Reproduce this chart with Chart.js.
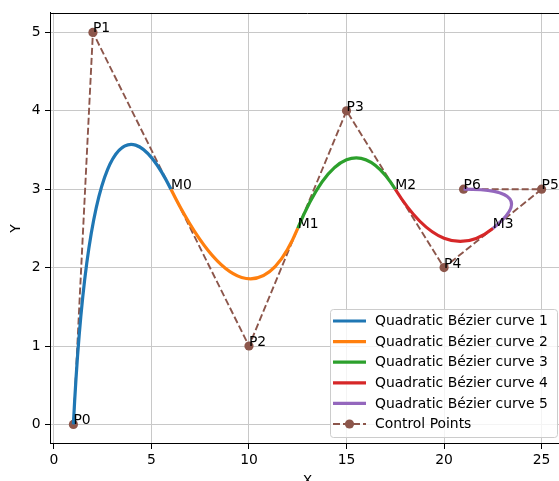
<!DOCTYPE html>
<html>
<head>
<meta charset="utf-8">
<script src="https://cdn.jsdelivr.net/npm/chart.js@4"></script>
<style>
  html, body { margin: 0; padding: 0; overflow: hidden; background: #fff; }
  #wrap { width: 559px; height: 481px; overflow: hidden; }
  canvas { display: block; }
</style>
</head>
<body>
<div id="wrap"><canvas id="bezierChart" width="575" height="490"></canvas></div>
<script>
'use strict';

// control points P0..P6
var cpX = [1, 2, 10, 15, 20, 25, 21];
var cpY = [0, 5, 1, 4, 2, 3, 3];
var cpLabels = ['P0', 'P1', 'P2', 'P3', 'P4', 'P5', 'P6'];

// joins between the curves M0..M3
var midX = [6, 12.5, 17.5, 22.5];
var midY = [3, 2.5, 3, 2.5];
var midLabels = ['M0', 'M1', 'M2', 'M3'];

var curveNames = ['Quadratic Bézier curve 1', 'Quadratic Bézier curve 2', 'Quadratic Bézier curve 3',
                  'Quadratic Bézier curve 4', 'Quadratic Bézier curve 5'];
var curveColors = ['#1f77b4', '#ff7f0e', '#2ca02c', '#d62728', '#9467bd'];
var cpColor = '#8c564b';

var xTicks = [0, 5, 10, 15, 20, 25];
var yTicks = [0, 1, 2, 3, 4, 5];

var FONT = 'DejaVu Sans';
var FSIZE = 13.9;

Chart.defaults.font.family = FONT;
Chart.defaults.font.size = FSIZE;
Chart.defaults.color = '#000';

// curve i: start (P0 or M[i-1]) -> control P[i+1] -> end (M[i] or P6)
var datasets = curveNames.map(function (name, i) {
    var start = i === 0 ? {x: cpX[0], y: cpY[0]} : {x: midX[i - 1], y: midY[i - 1]};
    var end = i === curveNames.length - 1 ? {x: cpX[6], y: cpY[6]} : {x: midX[i], y: midY[i]};
    return {
        label: name,
        data: [start, end],
        bezierControl: {x: cpX[i + 1], y: cpY[i + 1]},
        borderColor: curveColors[i],
        backgroundColor: curveColors[i],
        borderWidth: 3.2,
        tension: 0.4,
        pointRadius: 0,
        fill: false,
        clip: false
    };
});

datasets.push({
    label: 'Control Points',
    data: cpX.map(function (x, i) { return {x: x, y: cpY[i]}; }),
    borderColor: cpColor,
    backgroundColor: cpColor,
    borderWidth: 1.9,
    borderDash: [7, 3],
    tension: 0,
    pointRadius: 4.6,
    pointBorderWidth: 0,
    pointBackgroundColor: cpColor,
    fill: false
});

// the line element draws a cubic between two points; give it the
// control points of the equivalent cubic so it traces the quadratic
var quadPlugin = {
    id: 'quad',
    afterDatasetsUpdate: function (chart) {
        var xs = chart.scales.x, ys = chart.scales.y;
        chart.data.datasets.forEach(function (ds, i) {
            if (!ds.bezierControl) { return; }
            var meta = chart.getDatasetMeta(i);
            var a = meta.data[0], b = meta.data[1];
            var cx = xs.getPixelForValue(ds.bezierControl.x);
            var cy = ys.getPixelForValue(ds.bezierControl.y);
            a.cp2x = a.x + 2 / 3 * (cx - a.x);
            a.cp2y = a.y + 2 / 3 * (cy - a.y);
            b.cp1x = b.x + 2 / 3 * (cx - b.x);
            b.cp1y = b.y + 2 / 3 * (cy - b.y);
            a.cp1x = a.x; a.cp1y = a.y;
            b.cp2x = b.x; b.cp2y = b.y;
            meta.dataset._pointsUpdated = true;
        });
    }
};

// point names, top spine, legend box
var decoPlugin = {
    id: 'deco',
    afterDatasetsDraw: function (chart) {
        var ctx = chart.ctx, xs = chart.scales.x, ys = chart.scales.y;
        ctx.save();
        ctx.font = FSIZE + 'px "' + FONT + '"';
        ctx.fillStyle = '#000';
        ctx.textAlign = 'left';
        ctx.textBaseline = 'alphabetic';
        cpLabels.forEach(function (t, i) {
            ctx.fillText(t, xs.getPixelForValue(cpX[i]), ys.getPixelForValue(cpY[i]));
        });
        midLabels.forEach(function (t, i) {
            ctx.fillText(t, xs.getPixelForValue(midX[i]), ys.getPixelForValue(midY[i]));
        });
        ctx.restore();
    },
    afterDraw: function (chart) {
        var ctx = chart.ctx, area = chart.chartArea;
        ctx.save();
        // top spine
        ctx.strokeStyle = '#000';
        ctx.lineWidth = 1;
        ctx.beginPath();
        ctx.moveTo(area.left, Math.round(area.top) + 0.5);
        ctx.lineTo(area.right, Math.round(area.top) + 0.5);
        ctx.stroke();

        // legend
        var w = 227, h = 128;
        var x0 = area.right - 8 - w, y0 = area.bottom - 7 - h;
        ctx.beginPath();
        ctx.roundRect(x0 + 0.5, y0 + 0.5, w, h, 3);
        ctx.fillStyle = 'rgba(255,255,255,0.8)';
        ctx.fill();
        ctx.strokeStyle = '#cccccc';
        ctx.lineWidth = 1;
        ctx.stroke();

        ctx.font = FSIZE + 'px "' + FONT + '"';
        ctx.textAlign = 'left';
        ctx.textBaseline = 'middle';
        chart.data.datasets.forEach(function (ds, i) {
            var ry = y0 + 12 + i * 20.6;
            var hx0 = x0 + 3, hx1 = x0 + 36;
            ctx.beginPath();
            ctx.strokeStyle = ds.borderColor;
            ctx.lineWidth = ds.borderWidth;
            ctx.setLineDash(ds.borderDash || []);
            ctx.moveTo(hx0, ry);
            ctx.lineTo(hx1, ry);
            ctx.stroke();
            ctx.setLineDash([]);
            if (ds.pointRadius) {
                ctx.beginPath();
                ctx.fillStyle = ds.pointBackgroundColor;
                ctx.arc((hx0 + hx1) / 2, ry, ds.pointRadius, 0, Math.PI * 2);
                ctx.fill();
            }
            ctx.fillStyle = '#000';
            ctx.fillText(ds.label, x0 + 45, ry + 0.5);
        });
        ctx.restore();
    }
};

var ctxEl = document.getElementById('bezierChart');
var bezierChart = new Chart(ctxEl, {
    type: 'line',
    data: { datasets: datasets },
    plugins: [quadPlugin, decoPlugin],
    options: {
        responsive: false,
        animation: false,
        devicePixelRatio: 1,
        layout: { padding: { top: 12, right: 10, left: 0, bottom: 0 } },
        plugins: { legend: { display: false }, tooltip: { enabled: false } },
        scales: {
            x: {
                type: 'linear',
                position: 'bottom',
                min: -0.2,
                max: 26.2,
                afterBuildTicks: function (s) { s.ticks = xTicks.map(function (v) { return {value: v}; }); },
                afterFit: function (s) { s.height = 46; },
                ticks: { padding: 3.5, maxRotation: 0, autoSkip: false },
                grid: { color: '#c8c8c8', lineWidth: 1, tickLength: 5, tickColor: '#000' },
                border: { color: '#000', width: 1 },
                title: { display: true, text: 'X', padding: { top: 0, bottom: 0.7 } }
            },
            y: {
                type: 'linear',
                min: -0.25,
                max: 5.25,
                afterBuildTicks: function (s) { s.ticks = yTicks.map(function (v) { return {value: v}; }); },
                afterFit: function (s) { s.width = 50; },
                ticks: { padding: 4.5, autoSkip: false },
                grid: { color: '#c8c8c8', lineWidth: 1, tickLength: 5, tickColor: '#000' },
                border: { color: '#000', width: 1 },
                title: { display: true, text: 'Y', padding: { top: 8, bottom: 0 } }
            }
        }
    }
});
</script>
</body>
</html>
